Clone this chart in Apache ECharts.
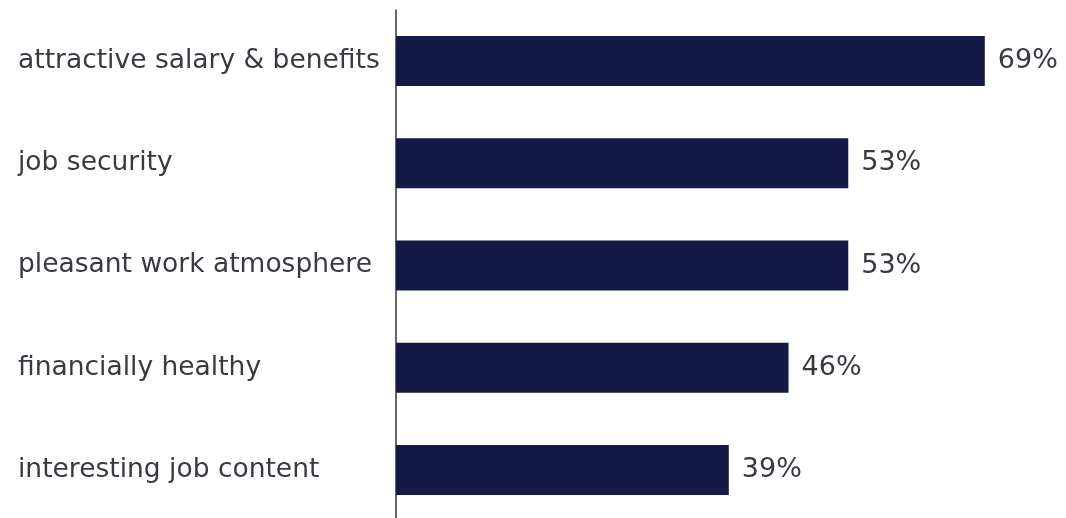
<!DOCTYPE html>
<html>
<head>
<meta charset="utf-8">
<style>
  html, body { margin: 0; padding: 0; background: #fff; overflow: hidden; }
  #chart { width: 1066px; height: 530px; }
</style>
<script src="https://cdn.jsdelivr.net/npm/echarts@6/dist/echarts.min.js"></script>
</head>
<body>
<div id="chart"></div>
<script>
// Reasons for choosing an employer (share of respondents, %)
const categories = [
  'attractive salary & benefits',
  'job security',
  'pleasant work atmosphere',
  'financially healthy',
  'interesting job content'
];
const shares = [69, 53, 53, 46, 39];

const chart = echarts.init(document.getElementById('chart'), null, { renderer: 'canvas' });

const textFont = '"DejaVu Sans", Verdana, sans-serif';

chart.setOption({
  animation: false,
  backgroundColor: '#ffffff',
  // the axis runs slightly past the visible bottom edge
  grid: { left: 396, width: 640, top: 10, height: 511, containLabel: false },
  xAxis: {
    type: 'value',
    min: 0,
    max: 75,
    show: false
  },
  yAxis: {
    type: 'category',
    data: categories,
    inverse: true,
    axisLine: { show: true, lineStyle: { color: '#333333', width: 1.5 } },
    axisTick: { show: false },
    axisLabel: {
      align: 'left',
      margin: 378,
      color: '#383a42',
      fontSize: 26.5,
      padding: [6, 0, 0, 0],
      fontFamily: textFont
    }
  },
  series: [{
    type: 'bar',
    data: shares,
    barWidth: 50,
    itemStyle: { color: '#141a45' },
    label: {
      show: true,
      position: 'right',
      distance: 13,
      formatter: '{c}%',
      color: '#383a42',
      fontSize: 27,
      padding: [2, 0, 0, 0],
      fontFamily: textFont
    }
  }]
});
</script>
</body>
</html>
